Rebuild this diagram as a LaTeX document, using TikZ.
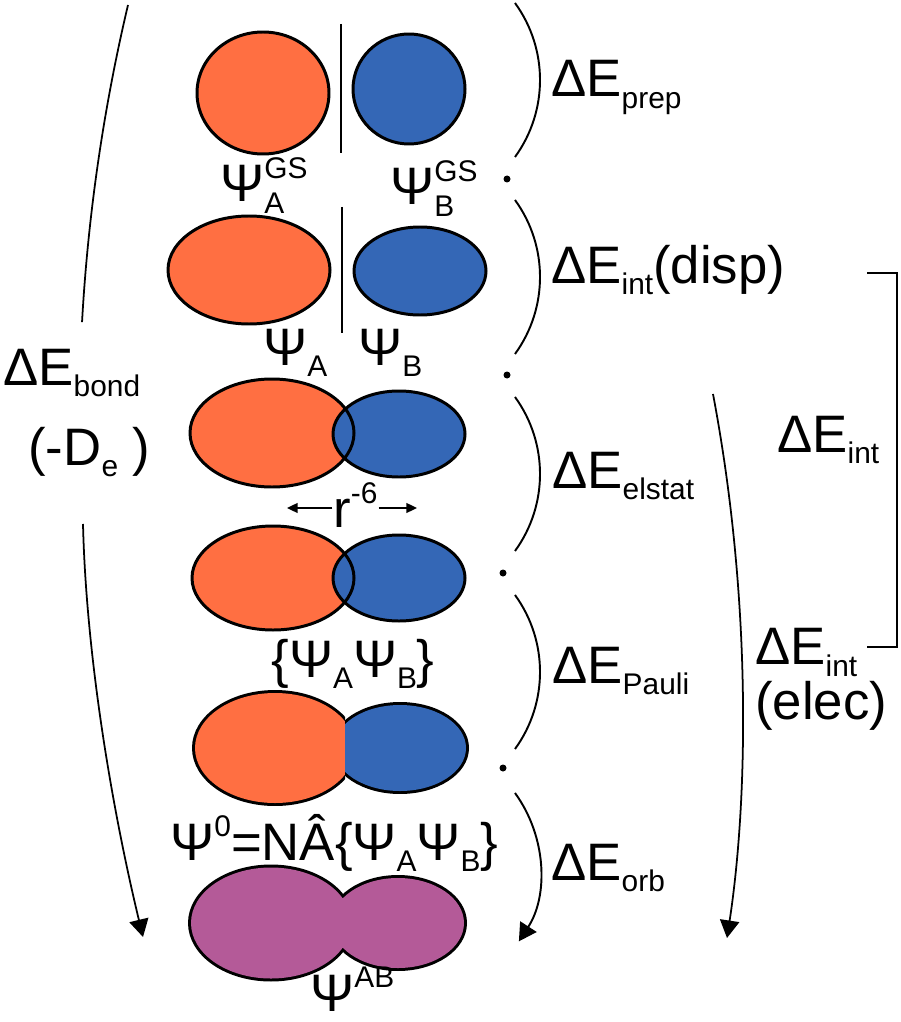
\documentclass[tikz,border=0pt]{standalone}
\usepackage{fontspec}
\setmainfont{Liberation Sans}
\usetikzlibrary{arrows.meta}
\definecolor{orbA}{HTML}{FF6F42}
\definecolor{orbB}{HTML}{3467B6}
\definecolor{orbAB}{HTML}{B45A98}
\newcommand{\lo}[1]{\raisebox{-0.22em}{\fontsize{17}{17}\selectfont #1}}
\newcommand{\hi}[1]{\raisebox{0.45em}{\fontsize{17}{17}\selectfont #1}}
\newcommand{\hilo}[2]{\makebox[0pt][l]{\hi{#1}}\lo{#2}}
\newcommand{\dE}[1]{ΔE\lo{#1}}
\begin{document}
\begin{tikzpicture}[scale=0.2,
  lobe/.style={draw=black,line width=1.7pt},
  rim/.style={draw=black,line width=3.4pt},
  paren/.style={black,line width=1.1pt},
  bigarrow/.style={black,line width=1pt,-{Triangle[length=10pt,width=11pt]}},
  smallarrow/.style={black,line width=1.1pt,-{Triangle[length=6pt,width=5.5pt]}}]
\tikzstyle{every node}+=[inner sep=0pt,font=\fontsize{30}{31}\selectfont]
\useasboundingbox (0,0) rectangle (90,-102.2);
% ground states
\draw [lobe,fill=orbA] (26.3,-9.3) ellipse (6.6 and 6.1);
\draw [lobe,fill=orbB] (40.9,-8.9) ellipse (5.6 and 5.5);
\draw [paren] (34.1,-2.4) -- (34.1,-15.3);
\node [anchor=base west] (psiAgs) at (22.0,-20.2) {Ψ\hilo{GS}{A}};
\node [anchor=base west] (psiBgs) at (39.0,-20.5) {Ψ\hilo{GS}{B}};
% prepared fragments
\draw [lobe,fill=orbA] (24.9,-27.0) ellipse (8.1 and 5.4);
\draw [lobe,fill=orbB] (42.0,-27.1) ellipse (6.6 and 4.4);
\draw [paren] (34.2,-20.7) -- (34.2,-33.3);
\node [anchor=base west] (psiA) at (26.3,-36.5) {Ψ\lo{A}};
\node [anchor=base west] (psiB) at (35.8,-36.5) {Ψ\lo{B}};
% overlap
\fill [orbA] (27.2,-43.3) ellipse (8.2 and 5.4);
\fill [orbB] (39.9,-43.4) ellipse (6.6 and 4.3);
\draw [lobe] (27.2,-43.3) ellipse (8.2 and 5.4) (39.9,-43.4) ellipse (6.6 and 4.3);
\node [anchor=base west] (rsix) at (33.3,-52.7) {r\hi{-6}};
\coordinate (rL) at (28.7,-50.8);
\coordinate (rR) at (41.7,-50.8);
\draw [smallarrow] ([xshift=-2pt]rsix.west |- rL) -- (rL);
\draw [smallarrow] ([xshift=2pt]rsix.east |- rR) -- (rR);
\fill [orbA] (27.3,-57.8) ellipse (8.1 and 5.2);
\fill [orbB] (39.9,-57.8) ellipse (6.6 and 4.3);
\draw [lobe] (27.3,-57.8) ellipse (8.1 and 5.2) (39.9,-57.8) ellipse (6.6 and 4.3);
\node [anchor=base] (psiPair) at (35.3,-67.7) {\{Ψ\lo{A}Ψ\lo{B}\}};
% antisymmetrized
\begin{scope}
\clip (0,0) rectangle (34.5,-102.2);
\draw [rim] (27.5,-74.8) ellipse (8.0 and 5.5);
\fill [orbA] (27.5,-74.8) ellipse (8.0 and 5.5);
\end{scope}
\begin{scope}
\clip (34.5,0) rectangle (90,-102.2);
\draw [rim] (40.0,-74.8) ellipse (6.6 and 4.3);
\fill [orbB] (40.0,-74.8) ellipse (6.6 and 4.3);
\end{scope}
\node [anchor=base west] (psiZero) at (17.0,-86.0) {Ψ\hi{0}=NÂ\{Ψ\lo{A}Ψ\lo{B}\}};
% final
\draw [rim] (27.1,-92.3) ellipse (8.0 and 5.55) (39.8,-92.3) ellipse (6.6 and 4.5);
\fill [orbAB] (27.1,-92.3) ellipse (8.0 and 5.55) (39.8,-92.3) ellipse (6.6 and 4.5);
\node [anchor=base west] (psiAB) at (31.0,-101.1) {Ψ\hi{AB}};
% steps
\coordinate (prepTop) at (51.5,-0.3);
\coordinate (dispTop) at (51.5,-20.0);
\coordinate (elstatTop) at (51.5,-39.7);
\coordinate (pauliTop) at (51.5,-59.5);
\coordinate (orbTop) at (51.5,-79.3);
\draw [paren] (prepTop) arc [start angle=36, end angle=-36, radius=13.1];
\draw [paren] (dispTop) arc [start angle=36, end angle=-36, radius=13.1];
\draw [paren] (elstatTop) arc [start angle=36, end angle=-36, radius=13.1];
\draw [paren] (pauliTop) arc [start angle=36, end angle=-36, radius=13.1];
\draw [bigarrow,line width=1.1pt] (orbTop) arc [start angle=36, end angle=-33, radius=13.1];
\fill (50.7,-17.9) circle (0.35);
\fill (50.7,-37.5) circle (0.35);
\fill (50.3,-57.3) circle (0.35);
\fill (50.3,-76.8) circle (0.35);
\node [anchor=base west] (ePrep) at (55.1,-9.7) {\dE{prep}};
\node [anchor=base west] (eDisp) at (55.1,-28.3) {\dE{int}(disp)};
\node [anchor=base west] (eElstat) at (55.2,-48.8) {\dE{elstat}};
\node [anchor=base west] (ePauli) at (55.2,-68.3) {\dE{Pauli}};
\node [anchor=base west] (eOrb) at (55.1,-88.0) {\dE{orb}};
% interaction
\node [anchor=base west] (eInt) at (77.7,-45.2) {\dE{int}};
\node [anchor=north west,align=left] (eElec) at (75.5,-62.8) {\dE{int}\\(elec)};
\coordinate (brTop) at (86.7,-27.3);
\coordinate (brCorner) at (89.7,-64.7);
\coordinate (brBot) at (86.7,-64.7);
\draw [paren] (brTop) -| (brCorner) -- (brBot);
\coordinate (elecTop) at (71.3,-39.4);
\coordinate (elecEnd) at (72.7,-93.8);
\draw [bigarrow] (elecTop) .. controls (75.2,-60) and (74.8,-80) .. (elecEnd);
% bond
\node [anchor=base west] (eBond) at (0.3,-38.5) {\dE{bond}};
\node [anchor=base west] (dEe) at (2.8,-46.5) {(-D\lo{e} )};
\coordinate (bondTop) at (12.8,-0.5);
\coordinate (bondMid) at (8.3,-52.4);
\coordinate (bondEnd) at (14.3,-93.7);
\draw [paren,line width=1pt] (bondTop) arc [start angle=166.7, end angle=176.8, radius=182];
\draw [bigarrow] (bondMid) .. controls (8.6,-65) and (11,-80) .. (bondEnd);
\end{tikzpicture}
\end{document}
